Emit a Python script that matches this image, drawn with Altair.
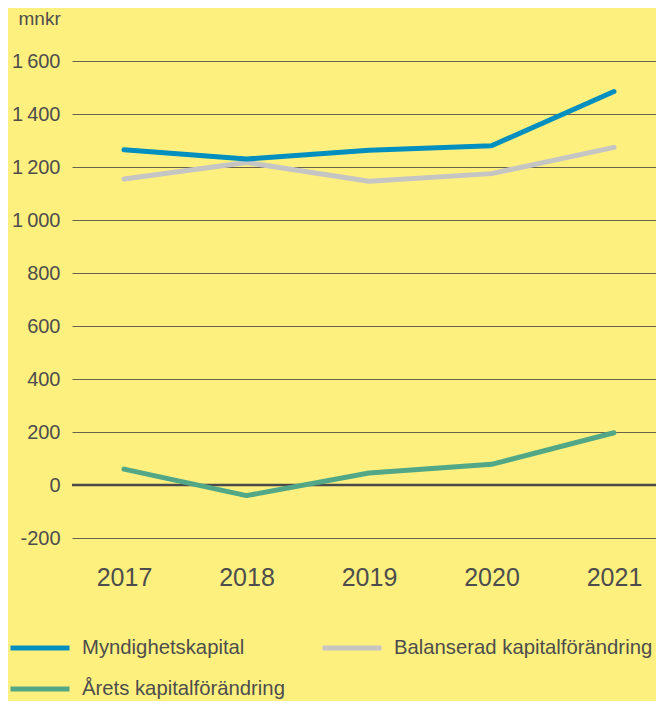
import altair as alt
import pandas as pd

years = [2017, 2018, 2019, 2020, 2021]
series_names = ["Myndighetskapital", "Balanserad kapitalförändring", "Årets kapitalförändring"]
myndighetskapital = [1265, 1230, 1263, 1280, 1485]
balanserad = [1155, 1217, 1146, 1175, 1274]
arets = [60, -40, 45, 78, 197]
y_ticks = [-200, 0, 200, 400, 600, 800, 1000, 1200, 1400, 1600]
colors = ["#008fbf", "#c5c5c3", "#52a886"]

rows = []
for name, vals in [(series_names[1], balanserad), (series_names[0], myndighetskapital), (series_names[2], arets)]:
    for yr, v in zip(years, vals):
        rows.append({"year": yr, "value": v, "series": name})
df = pd.DataFrame(rows)
zero_df = pd.DataFrame({"value": [0]})

BG = "#fef07f"
TXT = "#4d4d4d"
FONT = "Liberation Sans"

x_enc = alt.X(
    "year:Q",
    scale=alt.Scale(domain=[2016.5755, 2021.3429], nice=False, zero=False),
    axis=alt.Axis(
        values=years, format="d",
        title=None, domain=False, ticks=False, grid=False,
        labelFontSize=25, labelColor=TXT, labelPadding=27, labelFont=FONT,
        labelAngle=0, labelFlush=False, labelOverlap=False,
    ),
)

y_enc = alt.Y(
    "value:Q",
    scale=alt.Scale(domain=[-200, 1600], nice=False, zero=False),
    axis=alt.Axis(
        values=y_ticks, format=",d",
        labelExpr="replace(replace(datum.label, ',', '\u2009'), '\u2212', '-')",
        domain=False, ticks=False, grid=True, gridColor="#676350", gridWidth=1,
        labelFontSize=20, labelColor=TXT, labelPadding=12, labelFont=FONT,
        labelBaseline="middle",
        title="mnkr", titleAngle=0, titleAlign="left", titleBaseline="middle",
        titleX=-54, titleY=-43, titleFontSize=19, titleFontWeight="normal",
        titleColor=TXT, titleFont=FONT,
    ),
)

zero_rule = alt.Chart(zero_df).mark_rule(color="#4a4a4a", strokeWidth=2.5).encode(
    y=alt.Y("value:Q", scale=alt.Scale(domain=[-200, 1600], nice=False, zero=False))
)

lines = alt.Chart(df).mark_line(strokeWidth=5, strokeCap="round", strokeJoin="round").encode(
    x=x_enc,
    y=y_enc,
    color=alt.Color(
        "series:N",
        scale=alt.Scale(domain=series_names, range=colors),
        title=None,
        legend=alt.Legend(
            orient="none", legendX=-64, legendY=574, columns=2,
            direction="horizontal", clipHeight=26,
            symbolType="stroke", symbolStrokeWidth=5, symbolSize=3481,
            labelFontSize=20.3, labelColor=TXT, labelFont=FONT, labelOffset=10,
            columnPadding=35, rowPadding=15, labelLimit=400,
        ),
    ),
    detail="series:N",
)

chart = (
    alt.layer(zero_rule, lines)
    .properties(
        width=584, height=477,
        background=BG,
        autosize=alt.AutoSizeParams(type="none"),
        padding={"left": 64, "top": 53, "right": 0, "bottom": 163},
    )
    .configure_view(strokeWidth=0)
)

chart.save("out.html", embed_options={"renderer": "svg", "actions": False})
